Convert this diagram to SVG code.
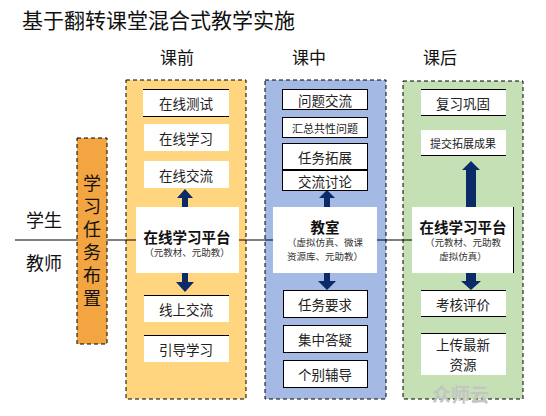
<svg xmlns="http://www.w3.org/2000/svg" width="546" height="416" viewBox="0 0 546 416">
<defs>
<style>
text{font-family:"Noto Sans CJK SC","Noto Sans",sans-serif;fill:#111;}
.title{font-size:21px;}
.hdr{font-size:17px;text-anchor:middle;}
.side{font-size:18px;text-anchor:middle;dominant-baseline:central;}
.vt{font-size:18px;writing-mode:vertical-rl;letter-spacing:5px;}
.t{font-size:13.5px;text-anchor:middle;dominant-baseline:central;fill:#222;}
.ts{font-size:11px;text-anchor:middle;dominant-baseline:central;fill:#222;}
.pt{font-size:14.5px;font-weight:bold;text-anchor:middle;dominant-baseline:central;}
.ps{font-size:9.5px;text-anchor:middle;dominant-baseline:central;fill:#333;}
.col{stroke:#000;stroke-width:1;stroke-dasharray:4 3;}
.wb{fill:#fff;}
.bd{fill:#fff;stroke:#000;stroke-width:1;}
.ln{stroke:#000;stroke-width:1;fill:none;}
.arr{fill:#0b2a68;}
</style>
</defs>
<rect width="546" height="416" fill="#fff"/>
<text class="title" x="22" y="28">基于翻转课堂混合式教学实施</text>
<text class="hdr" x="177" y="64">课前</text>
<text class="hdr" x="309" y="64">课中</text>
<text class="hdr" x="440" y="64">课后</text>

<g id="roles">
<text class="side" x="44" y="219">学生</text>
<text class="side" x="44" y="262">教师</text>
</g>

<g id="connectors">
<line class="ln" x1="15" y1="240" x2="77" y2="240"/>
</g>

<g id="task">
<rect x="77" y="138" width="30" height="206" fill="#f2a541" class="col"/>
<text class="vt" x="92" y="174">学习任务布置</text>
</g>

<g id="col-pre">
<rect x="126" y="80" width="120" height="319" fill="#ffd67f" class="col"/>
</g>
<g id="col-in">
<rect x="265" y="80" width="121" height="319" fill="#a5b9e5" class="col"/>
</g>
<g id="col-post">
<rect x="403" y="81" width="120" height="318" fill="#c5e0b4" class="col"/>
</g>

<g id="connectors-main">
<line class="ln" x1="107" y1="240" x2="136" y2="240"/>
<line class="ln" x1="239" y1="240" x2="273" y2="240"/>
<line class="ln" x1="377" y1="240" x2="412" y2="240"/>
<path class="arr" d="M182,207 V198 H177 L185,189 L193,198 H188 V207 Z"/>
<path class="arr" d="M182,273 V282 H176 L185,292 L194,282 H188 V273 Z"/>
<path class="arr" d="M324,207 V198 H319 L327,190 L335,198 H330 V207 Z"/>
<path class="arr" d="M324,273 V281 H318 L327,290 L336,281 H330 V273 Z"/>
<path class="arr" d="M466,207 V170 H462 L471,161 L480,170 H476 V207 Z"/>
<path class="arr" d="M466,273 V281 H461 L471,290 L481,281 H476 V273 Z"/>
</g>

<g id="pre-test"><rect class="wb" x="143" y="89" width="86" height="28"/><line class="ln" x1="143" y1="89.5" x2="229" y2="89.5" stroke-width="1.5"/><line class="ln" x1="143" y1="116.5" x2="229" y2="116.5"/><text class="t" x="186" y="103">在线测试</text></g>
<g id="pre-learn"><rect class="wb" x="144" y="124" width="85" height="27"/><text class="t" x="186" y="137.5">在线学习</text></g>
<g id="pre-comm"><rect class="wb" x="144" y="161" width="85" height="27"/><text class="t" x="186" y="174.5">在线交流</text></g>
<g id="pre-platform"><rect class="wb" x="136" y="207" width="103" height="66"/><text class="pt" x="187" y="236">在线学习平台</text><text class="ps" x="187" y="252">（元教材、元助教）</text></g>
<g id="pre-online"><rect class="wb" x="144" y="295" width="85" height="27"/><line class="ln" x1="144" y1="295.5" x2="229" y2="295.5"/><text class="t" x="186" y="308.5">线上交流</text></g>
<g id="pre-guide"><rect class="wb" x="144" y="335" width="85" height="27"/><line class="ln" x1="144" y1="335.5" x2="229" y2="335.5"/><text class="t" x="186" y="348.5">引导学习</text></g>

<g id="in-q"><rect class="bd" x="282.5" y="89.5" width="85" height="20"/><text class="t" x="325" y="99.5">问题交流</text></g>
<g id="in-sum"><rect class="bd" x="282.5" y="117.5" width="85" height="20"/><text class="ts" x="325" y="127.5">汇总共性问题</text></g>
<g id="in-ext"><rect class="bd" x="282.5" y="143.5" width="85" height="26"/><text class="t" x="325" y="156.5">任务拓展</text></g>
<g id="in-disc"><rect class="bd" x="282.5" y="170.5" width="85" height="20"/><text class="t" x="325" y="180.5">交流讨论</text></g>
<g id="in-room"><rect class="wb" x="273" y="207" width="104" height="66"/><text class="pt" x="325" y="226">教室</text><text class="ps" x="325" y="242">（虚拟仿真、微课</text><text class="ps" x="325" y="256">资源库、元助教）</text></g>
<g id="in-req"><rect class="bd" x="283.5" y="290.5" width="84" height="27"/><text class="t" x="325" y="304">任务要求</text></g>
<g id="in-ans"><rect class="bd" x="283.5" y="325.5" width="84" height="27"/><text class="t" x="325" y="339">集中答疑</text></g>
<g id="in-tutor"><rect class="bd" x="283.5" y="360.5" width="84" height="27"/><text class="t" x="325" y="374">个别辅导</text></g>

<g id="post-review"><rect class="wb" x="421" y="89" width="85" height="27"/><line class="ln" x1="421" y1="89.5" x2="506" y2="89.5"/><line class="ln" x1="421" y1="115.5" x2="506" y2="115.5"/><text class="t" x="463" y="102.5">复习巩固</text></g>
<g id="post-submit"><rect class="wb" x="421" y="130" width="85" height="26"/><line class="ln" x1="421" y1="155.5" x2="506" y2="155.5"/><text class="ts" x="463" y="143">提交拓展成果</text></g>
<g id="post-platform"><rect class="wb" x="412" y="207" width="102" height="66"/><line class="ln" x1="513.5" y1="207" x2="513.5" y2="273"/><text class="pt" x="463" y="226">在线学习平台</text><text class="ps" x="463" y="242">（元教材、元助教</text><text class="ps" x="463" y="256">虚拟仿真）</text></g>
<g id="post-eval"><rect class="wb" x="421" y="290" width="85" height="27"/><line class="ln" x1="421" y1="290.5" x2="506" y2="290.5"/><line class="ln" x1="421" y1="316.5" x2="506" y2="316.5"/><text class="t" x="463" y="303.5">考核评价</text></g>
<g id="post-upload"><rect class="wb" x="421" y="333" width="85" height="42"/><line class="ln" x1="421" y1="333.5" x2="506" y2="333.5"/><text class="t" x="463" y="344">上传最新</text><text class="t" x="463" y="364">资源</text></g>

<text x="432" y="402" style="font-size:19px;fill:#c4c4c4;font-weight:bold;">众师云</text>
</svg>
